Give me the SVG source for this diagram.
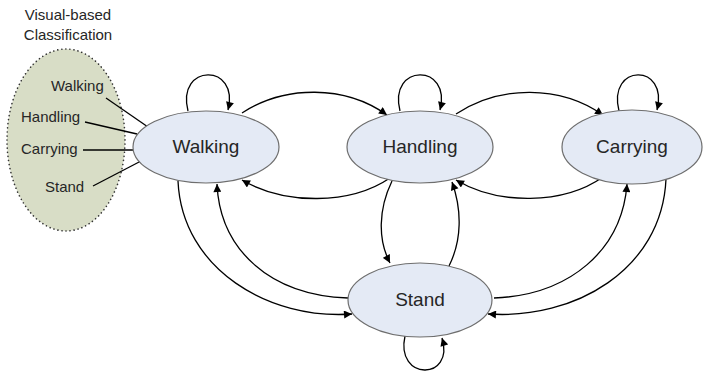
<svg xmlns="http://www.w3.org/2000/svg" width="703" height="373" viewBox="0 0 703 373">
<style>
.node{fill:#E4EAF5;stroke:#6E6E6E;stroke-width:1.2}
.lbl{font-family:"Liberation Sans",Arial,sans-serif;font-size:19px;fill:#262626;text-anchor:middle}
.sm{font-family:"Liberation Sans",Arial,sans-serif;font-size:15px;fill:#262626}
.edge{fill:none;stroke:#000;stroke-width:1.3;marker-end:url(#arr)}
.ln{fill:none;stroke:#000;stroke-width:1.3}
</style>
<defs>
<marker id="arr" viewBox="0 0 10 10" refX="10" refY="5" markerWidth="9" markerHeight="8" markerUnits="userSpaceOnUse" orient="auto">
<path d="M0,0 L10,5 L0,10 z" fill="#000"/>
</marker>
</defs>
<g id="classification">
<ellipse cx="66" cy="140" rx="59" ry="91" fill="#D8DDC6" stroke="#333" stroke-width="1.6" stroke-dasharray="0.1 4" stroke-linecap="round"/>
<text class="sm" x="68" y="20" text-anchor="middle">Visual-based</text>
<text class="sm" x="68" y="40" text-anchor="middle">Classification</text>
<text class="sm" x="51" y="91">Walking</text>
<text class="sm" x="21" y="122">Handling</text>
<text class="sm" x="21" y="154">Carrying</text>
<text class="sm" x="45" y="192">Stand</text>
</g>
<g id="connectors">
<path class="ln" d="M106,98 L148,127"/>
<path class="ln" d="M85,122 L137,134"/>
<path class="ln" d="M83,150 L133,150"/>
<path class="ln" d="M93,186 L141,161"/>
<path class="edge" d="M188,111 C176,63 240,63 228,110"/>
<path class="edge" d="M400,111 C388,63 452,63 440,110"/>
<path class="edge" d="M619,111 C607,63 669,63 657,110"/>
<path class="edge" d="M405,336 C395,381 455,381 442,338"/>
<path class="edge" d="M242,113 C285,85 345,85 387,115"/>
<path class="edge" d="M390,178 C350,205 285,205 242,180"/>
<path class="edge" d="M456,114 C500,85 560,85 603,115"/>
<path class="edge" d="M603,177 C563,205 498,205 456,180"/>
<path class="edge" d="M392,181 C378,210 378,240 390,263"/>
<path class="edge" d="M449,266 C462,240 462,210 452,182"/>
<path class="edge" d="M178,181 C182,270 270,320 352,314"/>
<path class="edge" d="M348,298 C270,295 220,250 217,184"/>
<path class="edge" d="M666,179 C662,270 574,320 488,314"/>
<path class="edge" d="M494,298 C570,295 622,250 627,184"/>
</g>
<g id="walking">
<ellipse class="node" cx="206" cy="147" rx="73" ry="36"/>
<text class="lbl" x="206" y="153">Walking</text>
</g>
<g id="handling">
<ellipse class="node" cx="420" cy="147" rx="73" ry="36"/>
<text class="lbl" x="420" y="153">Handling</text>
</g>
<g id="carrying">
<ellipse class="node" cx="632" cy="147" rx="70" ry="37"/>
<text class="lbl" x="632" y="153">Carrying</text>
</g>
<g id="stand">
<ellipse class="node" cx="420" cy="300" rx="72" ry="37"/>
<text class="lbl" x="420" y="306">Stand</text>
</g>
</svg>
